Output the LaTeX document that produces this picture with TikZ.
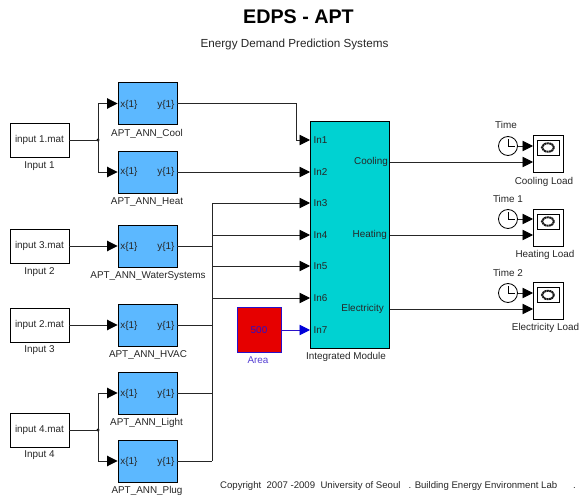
\documentclass[tikz,border=0pt]{standalone}
\usepackage{fontspec}
\setmainfont{Liberation Sans}
\usepackage{xcolor}
\usepackage{tikz}
\usetikzlibrary{arrows.meta,shapes}
\definecolor{annblue}{HTML}{5CB8FF}
\definecolor{modcyan}{HTML}{00D2D2}
\definecolor{areared}{HTML}{E60000}
\definecolor{areablue}{HTML}{2A10C8}
\tikzset{
txt/.style={font=\fontsize{9.9}{11}\selectfont,inner sep=0pt,text=black!85,text height=8pt,text depth=1pt},
infile/.style={draw,line width=0.9pt,minimum width=59pt,minimum height=34pt,inner sep=0pt,font=\fontsize{9.9}{11}\selectfont,text=black!85},
annblock/.style={draw,line width=0.9pt,fill=annblue,minimum width=59pt,minimum height=42pt},
scopebox/.style={draw,line width=0.8pt,minimum width=30pt,minimum height=37pt},
clockface/.style={draw,circle,line width=0.8pt,minimum size=19pt,inner sep=0pt},
wire/.style={line width=0.9pt,black!85},
into/.style={wire,-{Triangle[length=10.5pt,width=10.5pt,black]}}
}
\begin{document}
\begin{tikzpicture}[x=1pt,y=-1pt]
\useasboundingbox (0,0) rectangle (579,495);
\node[font=\bfseries\fontsize{19.7}{22}\selectfont,inner sep=0pt] (title) at (298.5,17){EDPS - APT};
\node[font=\fontsize{11.7}{13}\selectfont,inner sep=0pt,text=black!85] (subtitle) at (294.5,44){Energy Demand Prediction Systems};
% source files
\node[infile] (in1) at (39.5,140){input 1.mat};
\node[infile] (in3) at (39.5,246){input 3.mat};
\node[infile] (in2) at (39.5,325){input 2.mat};
\node[infile] (in4) at (39.5,430){input 4.mat};
\node[txt] (lin1) at (39.5,165){Input 1};
\node[txt] (lin3) at (39.5,271){Input 2};
\node[txt] (lin2) at (39.5,349){Input 3};
\node[txt] (lin4) at (39.5,454){Input 4};
% network blocks
\node[annblock] (cool) at (147.5,103.5){};
\node[annblock] (heat) at (147.5,172){};
\node[annblock] (water) at (147.5,246){};
\node[annblock] (hvac) at (147.5,325){};
\node[annblock] (light) at (147.5,393){};
\node[annblock] (plug) at (147.5,461){};
\node[txt] (lcool) at (147,133){APT\_ANN\_Cool};
\node[txt] (lheat) at (147,200.5){APT\_ANN\_Heat};
\node[txt] (lwater) at (148,275){APT\_ANN\_WaterSystems};
\node[txt] (lhvac) at (148,353.5){APT\_ANN\_HVAC};
\node[txt] (llight) at (146.5,422){APT\_ANN\_Light};
\node[txt] (lplug) at (147,490){APT\_ANN\_Plug};
\node[txt] (xcool) at (129,103.5){x\{1\}};
\node[txt] (ycool) at (166,103.5){y\{1\}};
\node[txt] (xheat) at (129,171.5){x\{1\}};
\node[txt] (yheat) at (166,171.5){y\{1\}};
\node[txt] (xwater) at (129,245.5){x\{1\}};
\node[txt] (ywater) at (166,245.5){y\{1\}};
\node[txt] (xhvac) at (129,324.5){x\{1\}};
\node[txt] (yhvac) at (166,324.5){y\{1\}};
\node[txt] (xlight) at (129,393){x\{1\}};
\node[txt] (ylight) at (166,393){y\{1\}};
\node[txt] (xplug) at (129,461){x\{1\}};
\node[txt] (yplug) at (166,461){y\{1\}};
% integrated module
\node[draw,line width=1pt,fill=modcyan,minimum width=79pt,minimum height=226pt] (module) at (350,235){};
\node[txt] (lmodule) at (346,356){Integrated Module};
\node[txt] (pin1) at (320.5,140){In1};
\node[txt] (pin2) at (320.5,172){In2};
\node[txt] (pin3) at (320.5,203){In3};
\node[txt] (pin4) at (320.5,235){In4};
\node[txt] (pin5) at (320.5,266){In5};
\node[txt] (pin6) at (320.5,298){In6};
\node[txt] (pin7) at (320.5,330){In7};
\node[txt,anchor=east] (pcool) at (388,161){Cooling};
\node[txt,anchor=east] (pheat) at (387,234){Heating};
\node[txt,anchor=east] (pelec) at (384,308){Electricity};
\coordinate (to1) at (310,140);
\coordinate (to2) at (310,172);
\coordinate (to3) at (310,203);
\coordinate (to4) at (310,235);
\coordinate (to5) at (310,266);
\coordinate (to6) at (310,298);
\coordinate (to7) at (310,330);
\coordinate (fromcool) at (390,162);
\coordinate (fromheat) at (390,235);
\coordinate (fromelec) at (390,309);
% area constant
\node[draw=areablue,line width=1pt,fill=areared,minimum width=44pt,minimum height=45pt,text=areablue,font=\fontsize{9.9}{11}\selectfont,inner sep=0pt] (area) at (259,330){500};
\node[txt,text=areablue!80] (larea) at (258,360){Area};
% scopes and clocks
\node[scopebox] (scool) at (548,153.5){};
\node[scopebox] (sheat) at (548,227.5){};
\node[scopebox] (selec) at (548,301){};
\node[clockface] (ccool) at (508,146){};
\node[clockface] (cheat) at (508,219){};
\node[clockface] (celec) at (508,293){};
\node[txt] (tcool) at (506,125){Time};
\node[txt] (theat) at (508,199){Time 1};
\node[txt] (telec) at (508,273){Time 2};
\node[txt] (lscool) at (544,181){Cooling Load};
\node[txt] (lsheat) at (545,253.5){Heating Load};
\node[txt] (lselec) at (545.5,327){Electricity Load};
\draw[line width=0.8pt](ccool.center)--++(0,-7)(ccool.center)--++(7,0)
(cheat.center)--++(0,-7)(cheat.center)--++(7,0)
(celec.center)--++(0,-7)(celec.center)--++(7,0);
\draw[line width=0.8pt](537,140)rectangle(559,155)
(537,214)rectangle(559,229)
(537,287.5)rectangle(559,302.5);
\draw[line width=2pt,dash pattern=on 2pt off 0.5pt,black!90](548,147.5)ellipse(6 and 4.2)
(548,221.5)ellipse(6 and 4.2)
(548,295)ellipse(6 and 4.2);
\coordinate (scool1) at (533,146);
\coordinate (scool2) at (533,162);
\coordinate (sheat1) at (533,219);
\coordinate (sheat2) at (533,235);
\coordinate (selec1) at (533,293);
\coordinate (selec2) at (533,309);
% branch points
\coordinate (split1) at (98,140);
\coordinate (split4) at (98,430);
\coordinate (elbow) at (296,140);
\coordinate (bus3) at (212,203);
\coordinate (bus4) at (212,235);
\coordinate (bus5) at (212,266);
\coordinate (bus6) at (212,298);
\coordinate (busw) at (212,246);
\coordinate (bush) at (212,325);
\coordinate (busl) at (212,393);
\coordinate (busp) at (212,461);
\fill(split1)circle(1.7);
\fill(split4)circle(1.7);
\draw[wire](in1)--(split1);
\draw[into](split1)|-(cool.west);
\draw[into](split1)|-(heat.west);
\draw[into](in3)--(water);
\draw[into](in2)--(hvac);
\draw[wire](in4)--(split4);
\draw[into](split4)|-(light.west);
\draw[into](split4)|-(plug.west);
\draw[into](cool.east)-|(elbow)--(to1);
\draw[into](heat.east)--(to2);
\draw[wire](bus3)--(busp);
\draw[wire](water)--(busw);
\draw[wire](hvac)--(bush);
\draw[wire](light)--(busl);
\draw[wire](plug)--(busp);
\draw[into](bus3)--(to3);
\draw[into](bus4)--(to4);
\draw[into](bus5)--(to5);
\draw[into](bus6)--(to6);
\draw[line width=0.9pt,areablue,-{Triangle[length=10.5pt,width=10.5pt,blue!85!black]}](area)--(to7);
\draw[into](fromcool)--(scool2);
\draw[into](fromheat)--(sheat2);
\draw[into](fromelec)--(selec2);
\draw[into](ccool)--(scool1);
\draw[into](cheat)--(sheat1);
\draw[into](celec)--(selec1);
\node[txt,anchor=west,font=\fontsize{9.6}{11}\selectfont] (copyr) at (220,484.5){Copyright\ \ 2007 -2009\ \ University of Seoul\ \ \ . Building Energy Environment Lab\ \ \ \ \ \ .};
\end{tikzpicture}
\end{document}
